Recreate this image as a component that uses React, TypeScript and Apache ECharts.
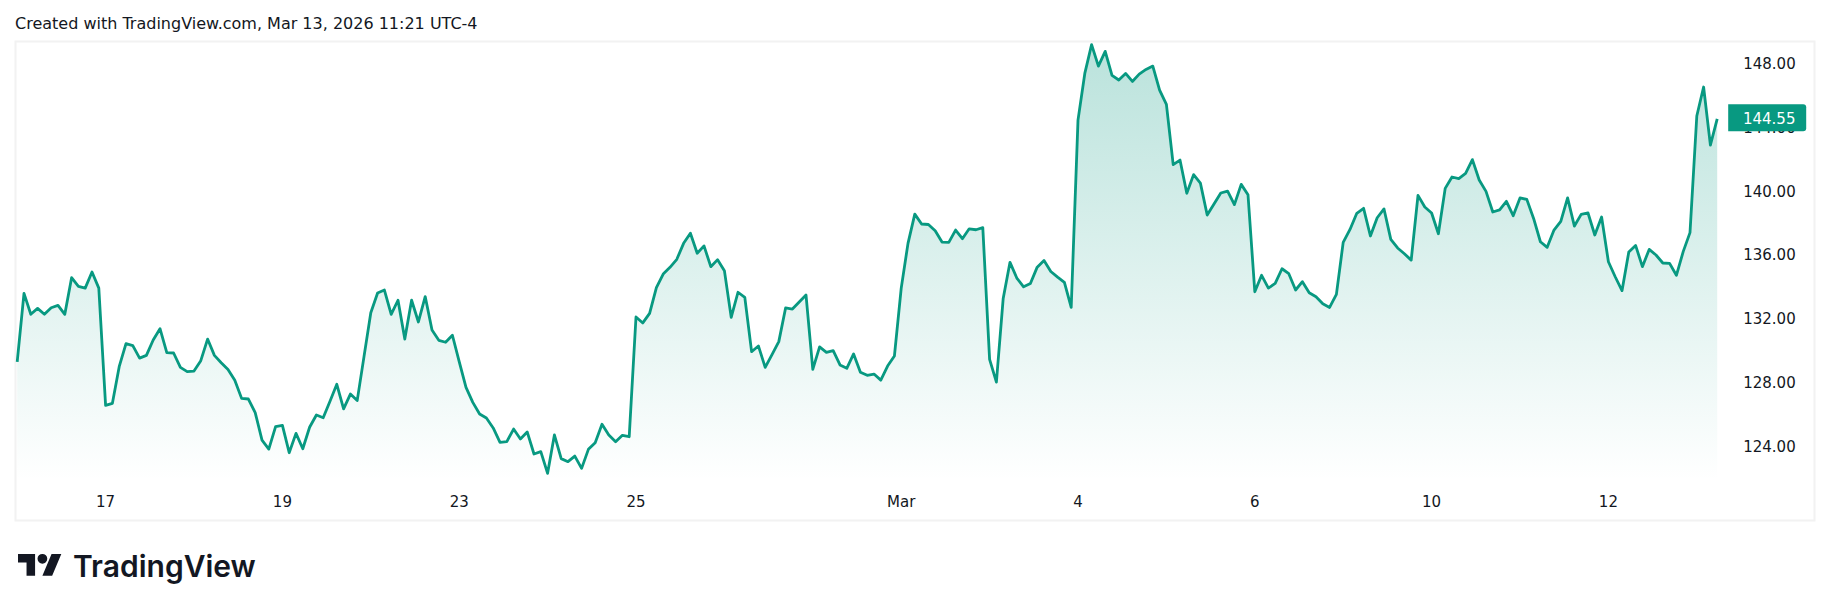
import React, { useRef, useEffect } from 'react';
import * as echarts from 'echarts';

// 30 minute closes, 13 bars to a session
const CLOSES: number[] = [
  129.35, 133.63, 132.32, 132.69, 132.32, 132.73, 132.88, 132.32, 134.61, 134.07, 133.96, 134.97, 133.96, // Feb 13
  126.62, 126.75, 129.04, 130.48, 130.36, 129.58, 129.75, 130.71, 131.42, 129.92, 129.9, 129.0, 128.73, // Feb 17
  128.77, 129.42, 130.77, 129.75, 129.29, 128.87, 128.19, 127.06, 127.02, 126.17, 124.45, 123.89, 125.29, // Feb 18
  125.37, 123.66, 124.87, 123.91, 125.25, 126.02, 125.85, 126.88, 127.94, 126.4, 127.33, 126.92, 129.67, // Feb 19
  132.42, 133.65, 133.84, 132.32, 133.2, 130.77, 133.2, 131.84, 133.43, 131.34, 130.69, 130.57, 131.01, // Feb 20
  129.36, 127.75, 126.81, 126.08, 125.83, 125.21, 124.31, 124.35, 125.14, 124.52, 124.96, 123.58, 123.73, // Feb 23
  122.37, 124.77, 123.29, 123.1, 123.45, 122.68, 123.87, 124.29, 125.44, 124.77, 124.35, 124.75, 124.66, // Feb 24
  132.15, 131.78, 132.38, 133.99, 134.84, 135.26, 135.76, 136.76, 137.39, 136.14, 136.6, 135.3, 135.74, // Feb 25
  135.05, 132.13, 133.7, 133.38, 129.98, 130.34, 129.0, 129.8, 130.61, 132.72, 132.65, 133.09, 133.53, // Feb 26
  128.87, 130.28, 129.94, 130.05, 129.15, 128.94, 129.84, 128.7, 128.5, 128.58, 128.2, 129.08, 129.71, // Feb 27
  133.94, 136.76, 138.59, 137.97, 137.94, 137.55, 136.84, 136.82, 137.59, 137.05, 137.67, 137.61, 137.74, // Mar 2
  129.5, 128.08, 133.31, 135.57, 134.59, 134.04, 134.25, 135.27, 135.69, 135.0, 134.65, 134.32, 132.75, // Mar 3
  144.47, 147.39, 149.19, 147.85, 148.77, 147.27, 146.98, 147.39, 146.89, 147.35, 147.64, 147.85, 146.35, // Mar 4
  145.45, 141.68, 141.97, 139.89, 141.06, 140.53, 138.53, 139.22, 139.91, 140.03, 139.18, 140.45, 139.8, // Mar 5
  133.73, 134.76, 133.96, 134.25, 135.17, 134.86, 133.84, 134.36, 133.67, 133.42, 132.98, 132.75, 133.57, // Mar 6
  136.82, 137.63, 138.64, 138.95, 137.22, 138.36, 138.91, 137.01, 136.47, 136.11, 135.71, 139.76, 139.03, // Mar 9
  138.66, 137.36, 140.2, 140.91, 140.81, 141.14, 142.0, 140.72, 140.01, 138.72, 138.85, 139.39, 138.49, // Mar 10
  139.6, 139.51, 138.32, 136.86, 136.51, 137.59, 138.14, 139.6, 137.84, 138.57, 138.66, 137.28, 138.41, // Mar 11
  135.61, 134.67, 133.8, 136.22, 136.63, 135.3, 136.38, 136.03, 135.53, 135.51, 134.76, 136.24, 137.43, // Mar 12
  144.73, 146.54, 142.91, 144.55, // Mar 13
];

// bar index -> label on the time axis
const TIME_TICKS: Record<number, string> = {
  13: '17',
  39: '19',
  65: '23',
  91: '25',
  130: 'Mar',
  156: '4',
  182: '6',
  208: '10',
  234: '12',
};

const PRICE_TICKS = [124, 128, 132, 136, 140, 144, 148];
const CATEGORIES = CLOSES.map((_, i) => TIME_TICKS[i] ?? '');
const LAST_PRICE = CLOSES[CLOSES.length - 1];

const GREEN = '#089981';
const TEXT = '#131722';
const FONT = '"DejaVu Sans", sans-serif';

echarts.graphic.registerShape(
  'tvLogo',
  echarts.graphic.extendPath(
    'M14 22H7V11H0V4h14v18zM28 22h-8l7.5-18h8L28 22zM16 8a4 4 0 1 0 8 0a4 4 0 1 0-8 0z',
    {},
  ),
);

const App: React.FC = () => {
  const chartRef = useRef<HTMLDivElement>(null);

  useEffect(() => {
    if (!chartRef.current) return;
    const chart = echarts.init(chartRef.current, undefined, { renderer: 'svg' });

    chart.setOption({
      animation: false,
      backgroundColor: '#ffffff',
      grid: { left: 17.2, top: 41, width: 1700, height: 440 },
      xAxis: {
        type: 'category',
        boundaryGap: false,
        data: CATEGORIES,
        axisLine: { show: false },
        axisTick: { show: false },
        splitLine: { show: false },
        axisLabel: {
          interval: (index: number) => TIME_TICKS[index] !== undefined,
          color: TEXT,
          fontFamily: FONT,
          fontSize: 15,
          margin: 13,
        },
      },
      yAxis: {
        type: 'value',
        position: 'right',
        min: 121.89,
        max: 149.42,
        axisLine: { show: false },
        axisTick: { show: false },
        splitLine: { show: false },
        axisLabel: {
          customValues: PRICE_TICKS,
          formatter: (v: number) => v.toFixed(2),
          color: TEXT,
          fontFamily: FONT,
          fontSize: 15,
          margin: 26,
          padding: [2, 0, 0, 0],
        },
      },
      series: [
        {
          type: 'line',
          data: CLOSES,
          showSymbol: false,
          symbol: 'none',
          smooth: false,
          clip: false,
          lineStyle: { color: GREEN, width: 2.8, join: 'round' },
          areaStyle: {
            origin: 'start',
            opacity: 1,
            color: new echarts.graphic.LinearGradient(0, 0, 0, 1, [
              { offset: 0, color: 'rgba(8,153,129,0.28)' },
              { offset: 1, color: 'rgba(8,153,129,0)' },
            ]),
          },
          markPoint: {
            silent: true,
            symbol: 'path://M0 0H75a3 3 0 0 1 3 3V24a3 3 0 0 1-3 3H0z',
            symbolSize: [78, 27],
            symbolOffset: [50, -1],
            itemStyle: { color: GREEN },
            label: {
              show: true,
              formatter: () => LAST_PRICE.toFixed(2),
              color: '#ffffff',
              fontFamily: FONT,
              fontSize: 15,
              offset: [2, 1],
            },
            data: [{ coord: [CLOSES.length - 1, LAST_PRICE] }],
          },
        },
      ],
      graphic: [
        {
          type: 'rect',
          silent: true,
          z: -1,
          shape: { x: 15.5, y: 41.5, width: 1799, height: 479 },
          style: { fill: 'none', stroke: '#f2f2f2', lineWidth: 2 },
        },
        {
          type: 'text',
          x: 15,
          y: 23,
          style: {
            text: 'Created with TradingView.com, Mar 13, 2026 11:21 UTC-4',
            fill: TEXT,
            font: `16px ${FONT}`,
            verticalAlign: 'middle',
          },
        },
        {
          type: 'tvLogo',
          x: 18,
          y: 549,
          scaleX: 1.22,
          scaleY: 1.22,
          style: { fill: TEXT },
        },
        {
          type: 'text',
          x: 73,
          y: 566,
          style: {
            text: 'TradingView',
            fill: TEXT,
            font: '600 30px Inter, sans-serif',
            verticalAlign: 'middle',
          },
        },
      ],
    });

    return () => chart.dispose();
  }, []);

  return (
    <div
      ref={chartRef}
      style={{ position: 'fixed', left: 0, top: 0, width: 1830, height: 611 }}
    />
  );
};

export default App;
